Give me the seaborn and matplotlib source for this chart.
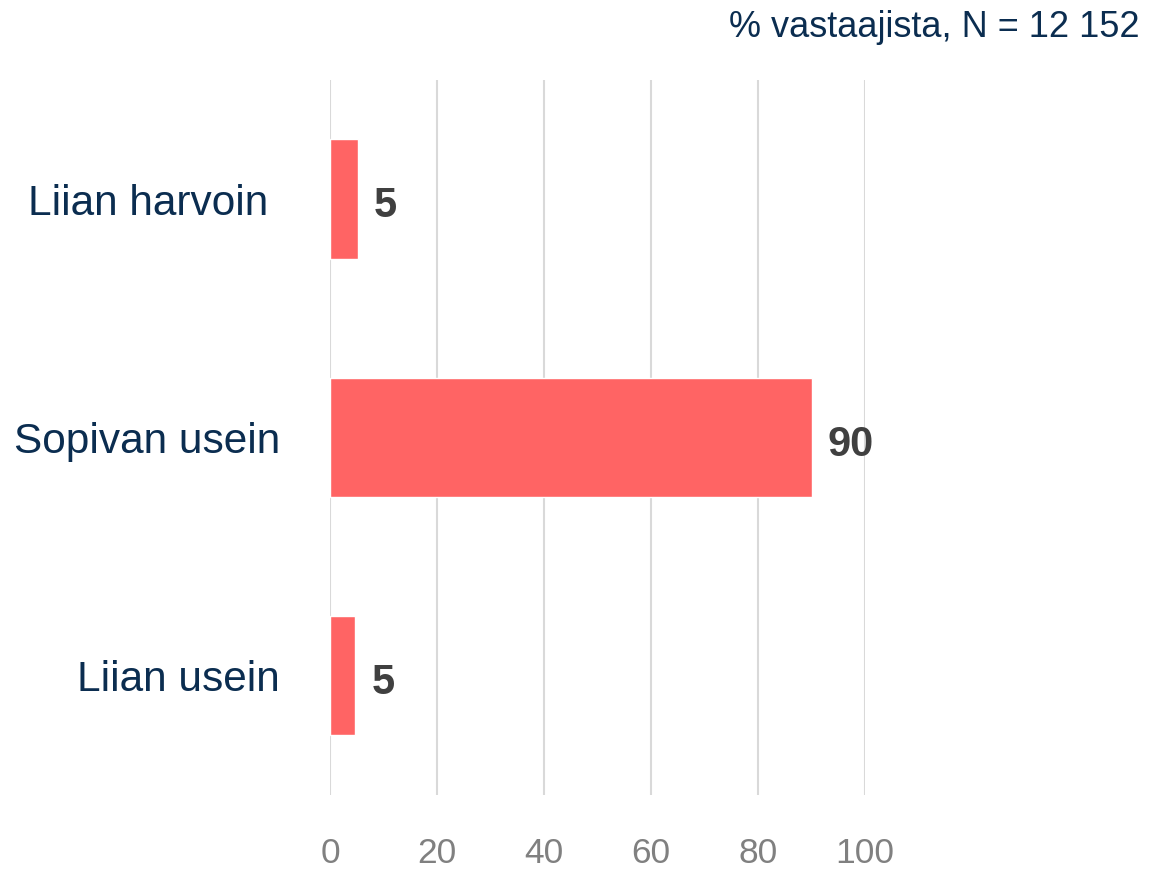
import pandas as pd
import seaborn as sns
import matplotlib.pyplot as plt

# data
categories = ['Liian harvoin ', 'Sopivan usein', 'Liian usein']
values = [5.2, 90.1, 4.7]
value_labels = ['5', '90', '5']
ticks = [0, 20, 40, 60, 80, 100]

df = pd.DataFrame({'kategoria': categories, 'osuus': values})

sns.set_style('white')
plt.rcParams['font.family'] = ['Liberation Sans', 'DejaVu Sans']

navy = '#0b2d50'
fig = plt.figure(figsize=(11.5, 8.71), dpi=100)
ax = fig.add_axes([0.287, 0.0873, 0.465, 0.821])

sns.barplot(data=df, x='osuus', y='kategoria', color='#ff6464', width=0.5,
            saturation=1, ax=ax, zorder=3)

ax.set_xlim(0, 100)
ax.set_ylim(2.5, -0.5)
ax.set_xticks(ticks)
ax.set_xticklabels([str(t) for t in ticks])
ax.grid(axis='x', color='#d9d9d9', linewidth=1.5, zorder=0)
ax.grid(axis='y', visible=False)
for s in ax.spines.values():
    s.set_visible(False)
ax.tick_params(axis='x', length=0, pad=30, labelsize=25.5, labelcolor='#808080')
ax.tick_params(axis='y', length=0, pad=36, labelsize=30.5, labelcolor=navy)
ax.set_xlabel('')
ax.set_ylabel('')

for i, (v, lab) in enumerate(zip(values, value_labels)):
    ax.text(v + 3, i + 0.03, lab, ha='left', va='center', fontsize=30,
            fontweight='bold', color='#404040', clip_on=False)

fig.text(0.991, 0.968, '% vastaajista, N = 12 152', ha='right', va='center',
         fontsize=26, color=navy)

fig.savefig('out.png', dpi=100)
